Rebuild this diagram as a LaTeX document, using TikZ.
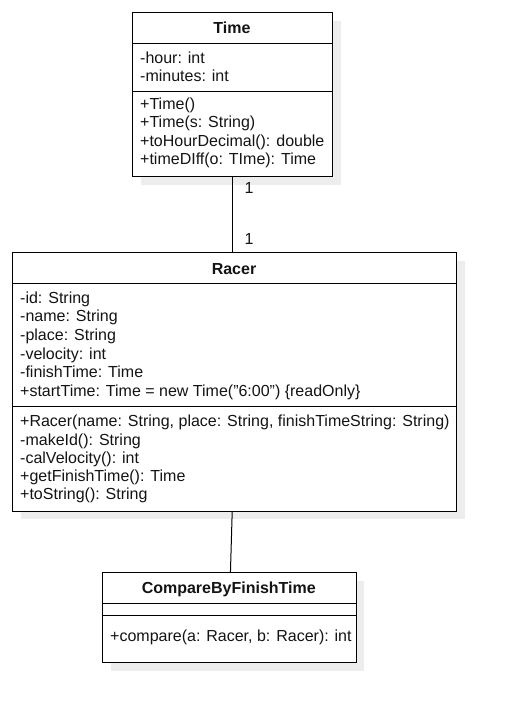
\documentclass[tikz,border=0pt]{standalone}
\usepackage{fontspec}
\setmainfont{Liberation Sans}
\usetikzlibrary{shadows}
\begin{document}
\begin{tikzpicture}[x=1pt,y=-1pt,
  box/.style={draw=black, line width=1pt, fill=white, inner sep=0pt, anchor=north west,
    drop shadow={shadow xshift=8pt, shadow yshift=-8pt, fill=black!7, opacity=1}},
  txt/.style={anchor=base west, inner sep=0pt, font=\fontsize{16}{19}\selectfont, text=black!92},
  head/.style={anchor=base, inner sep=0pt, font=\fontsize{16}{19}\selectfont\bfseries, text=black!92},
  sep/.style={line width=1pt},
  conn/.style={line width=1pt}]
\useasboundingbox (0,0) rectangle (507,712);

% Time
\node[box, minimum width=200pt, minimum height=164pt] (time) at (132,12) {};
\draw[sep] (time.west |- 0,43.3) -- (time.east |- 0,43.3);
\draw[sep] (time.west |- 0,91) -- (time.east |- 0,91);
\node[head] (timeh) at (232,33.3) {Time};
\node[txt] (t1) at (140,63) {-hour: int};
\node[txt] (t2) at (140,81.5) {-minutes: int};
\node[txt] (t3) at (140,109) {+Time()};
\node[txt] (t4) at (140,127.5) {+Time(s: String)};
\node[txt] (t5) at (140,146) {+toHourDecimal(): double};
\node[txt] (t6) at (140,164.5) {+timeDIff(o: TIme): Time};

% Racer
\node[box, minimum width=444pt, minimum height=258.5pt] (racer) at (12,252) {};
\draw[sep] (racer.west |- 0,283.3) -- (racer.east |- 0,283.3);
\draw[sep] (racer.west |- 0,406) -- (racer.east |- 0,406);
\node[head] (racerh) at (234,274.3) {Racer};
\node[txt] (r1) at (20,303.3) {-id: String};
\node[txt] (r2) at (20,321.9) {-name: String};
\node[txt] (r3) at (20,340.5) {-place: String};
\node[txt] (r4) at (20,359) {-velocity: int};
\node[txt] (r5) at (20,377.6) {-finishTime: Time};
\node[txt] (r6) at (20,396.4) {+startTime: Time = new Time("6:00") \{readOnly\}};
\node[txt] (r7) at (20,426.5) {+Racer(name: String, place: String, finishTimeString: String)};
\node[txt] (r8) at (20,445) {-makeId(): String};
\node[txt] (r9) at (20,463.5) {-calVelocity(): int};
\node[txt] (r10) at (20,481.5) {+getFinishTime(): Time};
\node[txt] (r11) at (20,499.5) {+toString(): String};

% CompareByFinishTime
\node[box, minimum width=253.5pt, minimum height=90pt] (cmp) at (102,572) {};
\draw[sep] (cmp.west |- 0,603.3) -- (cmp.east |- 0,603.3);
\draw[sep] (cmp.west |- 0,615.5) -- (cmp.east |- 0,615.5);
\node[head] (cmph) at (228.75,593.3) {CompareByFinishTime};
\node[txt] (c1) at (110,641.5) {+compare(a: Racer, b: Racer): int};

% connectors
\draw[conn] ([xshift=0.3pt]time.south) -- ([xshift=0.3pt]time.south |- racer.north);
\node[txt] (m1) at (244.3,193.3) {1};
\node[txt] (m2) at (244.3,244) {1};
\draw[conn] ([xshift=-2.3pt]racer.south) -- ([xshift=1.2pt]cmp.north);
\end{tikzpicture}
\end{document}
